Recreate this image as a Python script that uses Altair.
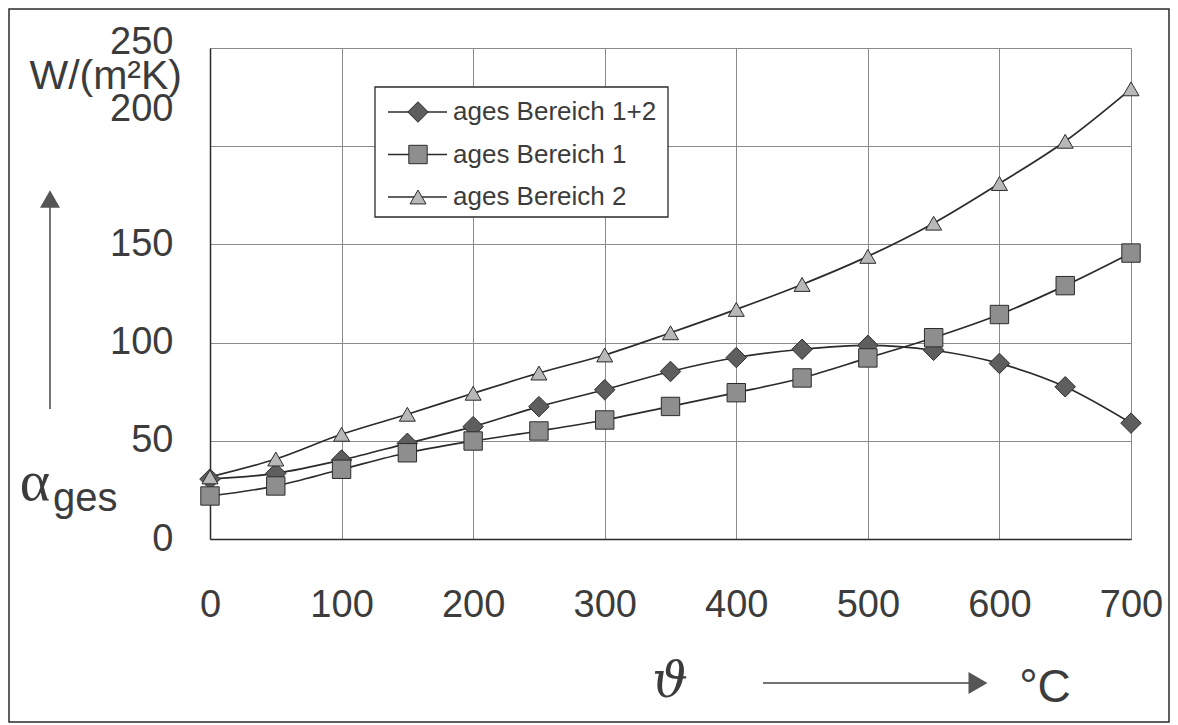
import altair as alt
import pandas as pd

# ---------------- data ----------------
temps = [0, 50, 100, 150, 200, 250, 300, 350, 400, 450, 500, 550, 600, 650, 700]
alpha_b12 = [30.5, 33.4, 40.2, 48.7, 57.2, 67.4, 76.0, 85.3, 92.4, 96.6, 98.6, 96.1, 89.4, 77.5, 59.0]
alpha_b1 = [21.9, 27.0, 35.5, 43.9, 49.9, 55.0, 60.6, 67.5, 74.5, 82.0, 92.2, 102.5, 114.3, 129.0, 145.6]
alpha_b2 = [31.6, 40.7, 53.3, 63.5, 74.2, 84.5, 93.7, 105.0, 116.9, 129.6, 143.9, 160.8, 181.0, 202.5, 229.2]
series_names = ["ages Bereich 1+2", "ages Bereich 1", "ages Bereich 2"]
x_ticks = [0, 100, 200, 300, 400, 500, 600, 700]
y_ticks = [0, 50, 100, 150, 200, 250]

# ---------------- styles ----------------
marker_shapes = ["diamond", "square", "triangle-up"]
marker_sizes = [420, 256, 360]
marker_fills = ["#5e5e5e", "#8e8e8e", "#b8b8b8"]
INK = "#2b2b2b"
TXT = "#3c3c3c"
SANS = "Liberation Sans"

rows = []
for i, (name, vals) in enumerate(zip(series_names, [alpha_b12, alpha_b1, alpha_b2])):
    for t, v in zip(temps, vals):
        rows.append({"temp": t, "alpha": v, "series": name, "order": i})
df = pd.DataFrame(rows)
legend_df = pd.DataFrame({"series": series_names, "order": list(range(len(series_names)))})

y_scale = alt.Scale(domain=[0, 250], nice=False)
x_enc = alt.X("temp:Q", scale=alt.Scale(domain=[0, 700], nice=False),
              axis=alt.Axis(values=x_ticks, title=None, ticks=False, labelFlush=False,
                            labelFontSize=38, labelFont=SANS, labelColor=TXT,
                            labelPadding=47, grid=True, gridColor="#8a8a8a",
                            domainColor=INK, domainWidth=1.5))
y_enc = alt.Y("alpha:Q", scale=y_scale,
              axis=alt.Axis(values=y_ticks, title=None, ticks=False,
                            labelFontSize=38, labelFont=SANS, labelColor=TXT,
                            labelPadding=37, labelFlush=False, grid=True, gridColor="#8a8a8a",
                            domainColor=INK, domainWidth=1.5,
                            labelOffset={"condition": [
                                {"test": "datum.value == 200", "value": -37},
                                {"test": "datum.value == 250", "value": -6}],
                                "value": 0}))

shape_enc = alt.Shape("series:N", scale=alt.Scale(domain=series_names, range=marker_shapes), legend=None)
fill_enc = alt.Fill("series:N", scale=alt.Scale(domain=series_names, range=marker_fills), legend=None)
size_enc = alt.Size("series:N", scale=alt.Scale(domain=series_names, range=marker_sizes), legend=None)

base = alt.Chart(df)

lines = base.mark_line(interpolate="monotone", color=INK, strokeWidth=1.7).encode(
    x=x_enc, y=y_enc, detail="series:N", order="temp:Q")

points = base.mark_point(filled=True, stroke=INK, strokeWidth=1, opacity=1).encode(
    x="temp:Q", y=alt.Y("alpha:Q", scale=y_scale, axis=None),
    shape=shape_enc, fill=fill_enc, size=size_enc, order="order:Q")

# ---------------- legend built from the series names ----------------
one = alt.Data(values=[{"k": 1}])
leg_y = alt.Y("series:N", scale=alt.Scale(type="point", domain=series_names, range=[64, 149], padding=0),
              axis=None)
leg_box = alt.Chart(one).mark_rect(fill="white", stroke=INK, strokeWidth=1.3).encode(
    x=alt.value(165), x2=alt.value(458), y=alt.value(39), y2=alt.value(169))
leg_stub = alt.Chart(legend_df).mark_rule(color=INK, strokeWidth=1.5).encode(
    x=alt.value(178), x2=alt.value(237), y=leg_y)
leg_mark = alt.Chart(legend_df).mark_point(filled=True, stroke=INK, strokeWidth=1, opacity=1).encode(
    x=alt.value(208), y=leg_y, shape=shape_enc, fill=fill_enc, size=size_enc)
leg_text = alt.Chart(legend_df).mark_text(align="left", baseline="middle", font=SANS, fontSize=26,
                                          color=TXT).encode(
    x=alt.value(243), y=leg_y, text="series:N")

# ---------------- annotations ----------------
frame = alt.Chart(one).mark_rect(fillOpacity=0, stroke=INK, strokeWidth=1.5).encode(
    x=alt.value(-201), x2=alt.value(959), y=alt.value(-39), y2=alt.value(674))
unit_txt = alt.Chart(one).mark_text(text="W/(m²K)", font=SANS, fontSize=41, color=TXT,
                                    align="right", baseline="middle").encode(
    x=alt.value(-28), y=alt.value(29))
alpha_txt = alt.Chart(one).mark_text(text="α", font="Liberation Serif", fontSize=58, color=TXT,
                                     align="center", baseline="middle").encode(
    x=alt.value(-175), y=alt.value(435))
ges_txt = alt.Chart(one).mark_text(text="ges", font=SANS, fontSize=40, color=TXT,
                                   align="left", baseline="alphabetic").encode(
    x=alt.value(-157), y=alt.value(463))
y_arrow = alt.Chart(one).mark_rule(color="#444", strokeWidth=1.5).encode(
    x=alt.value(-160), y=alt.value(155), y2=alt.value(361))
y_head = alt.Chart(one).mark_point(shape="triangle-up", filled=True, fill="#555", size=400,
                                   opacity=1).encode(x=alt.value(-160), y=alt.value(151))
theta_txt = alt.Chart(one).mark_text(text="ϑ", font="DejaVu Serif", fontSize=50, fontStyle="italic",
                                     color=TXT, align="center", baseline="middle").encode(
    x=alt.value(460), y=alt.value(634))
x_arrow = alt.Chart(one).mark_rule(color="#444", strokeWidth=1.5).encode(
    x=alt.value(553), x2=alt.value(765), y=alt.value(635))
x_head = alt.Chart(one).mark_point(shape="triangle-right", filled=True, fill="#555", size=480,
                                   opacity=1).encode(x=alt.value(768), y=alt.value(635))
degc_txt = alt.Chart(one).mark_text(text="°C", font=SANS, fontSize=46, color=TXT,
                                    align="center", baseline="middle").encode(
    x=alt.value(835), y=alt.value(640))

chart = alt.layer(
    frame, lines, points, leg_box, leg_stub, leg_mark, leg_text,
    unit_txt, alpha_txt, ges_txt, y_arrow, y_head, theta_txt, x_arrow, x_head, degc_txt
).resolve_scale(y="independent").properties(
    width=921, height=491,
    padding={"left": 202, "top": 40, "right": 39, "bottom": 186},
    autosize=alt.AutoSizeParams(type="none"),
).configure_view(stroke=INK, strokeWidth=1.5).configure(background="white")

chart.save("out.html", embed_options={"renderer": "svg", "actions": False})
